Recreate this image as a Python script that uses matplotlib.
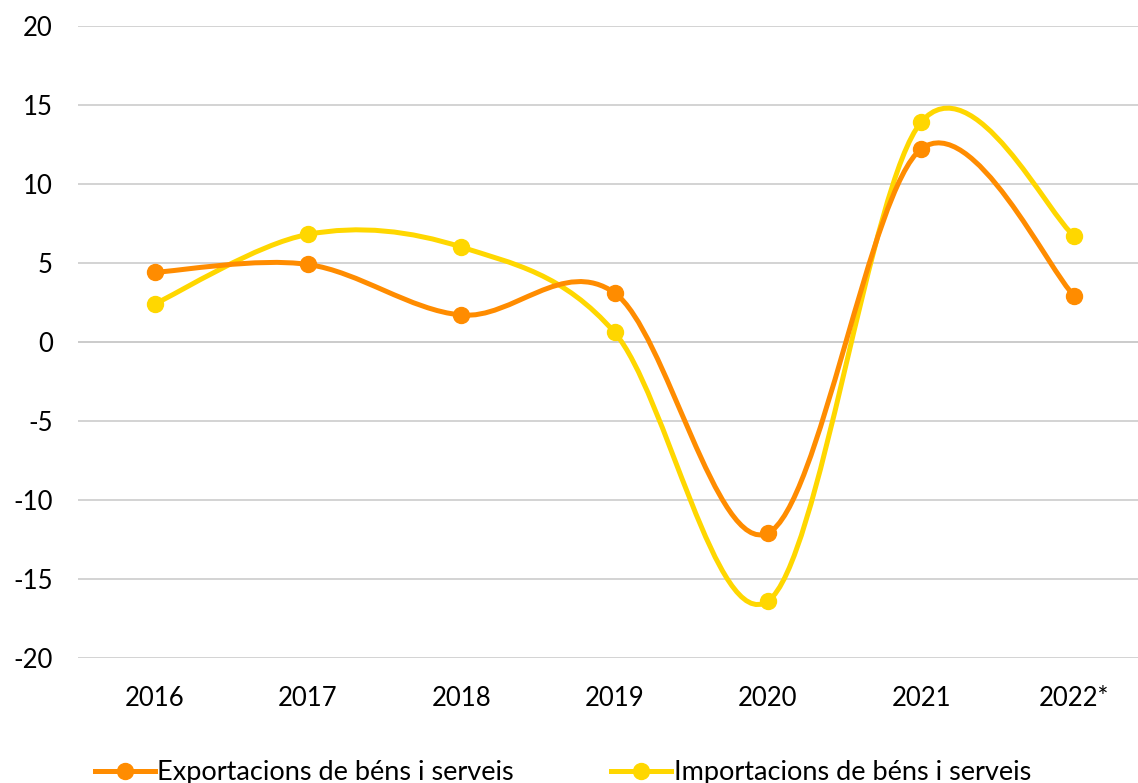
import numpy as np
import matplotlib
matplotlib.use("Agg")
import matplotlib.pyplot as plt
from matplotlib.path import Path
from matplotlib.patches import PathPatch
from matplotlib.lines import Line2D

plt.rcParams['font.family'] = ['Lato', 'DejaVu Sans']
plt.rcParams['axes.unicode_minus'] = False

years = ['2016', '2017', '2018', '2019', '2020', '2021', '2022*']
exports = [4.4, 4.9, 1.7, 3.1, -12.1, 12.2, 2.9]
imports = [2.4, 6.8, 6.0, 0.6, -16.4, 13.9, 6.7]

c_exp = '#FF8C00'
c_imp = '#FFD700'


def smooth_path(xs, ys):
    # Excel-style smoothed line: cubic bezier, control points from neighbours
    pts = np.column_stack([xs, ys]).astype(float)
    n = len(pts)
    verts = [pts[0]]
    codes = [Path.MOVETO]
    for i in range(n - 1):
        p0 = pts[i - 1] if i > 0 else pts[i]
        p1 = pts[i]
        p2 = pts[i + 1]
        p3 = pts[i + 2] if i + 2 < n else pts[i + 1]
        c1 = p1 + (p2 - p0) / 6.0
        c2 = p2 - (p3 - p1) / 6.0
        verts += [c1, c2, p2]
        codes += [Path.CURVE4] * 3
    return Path(verts, codes)


fig = plt.figure(figsize=(11.38, 7.83), dpi=100)
ax = fig.add_axes([0.0685, 0.1596, 0.943, 0.8075])

x = np.arange(len(years))
for vals, col, z in [(imports, c_imp, 3), (exports, c_exp, 4)]:
    patch = PathPatch(smooth_path(x, vals), facecolor='none', edgecolor=col,
                      lw=3.6, capstyle='round', joinstyle='round', zorder=z)
    ax.add_patch(patch)
    ax.plot(x, vals, ls='none', marker='o', ms=11.5, color=col, zorder=z + 0.5)

ax.set_xlim(-0.5, len(years) - 0.5)
ax.set_ylim(-20, 20)
ax.set_yticks(np.arange(-20, 21, 5))
ax.set_xticks(x)
ax.set_xticklabels(years)
ax.grid(axis='y', color='#D0D0D0', lw=1.3, zorder=0)
ax.axhline(0, color='#A8A4A4', lw=1.3, zorder=1)
for s in ax.spines.values():
    s.set_visible(False)
ax.tick_params(length=0, labelsize=18.5, colors='black')
ax.tick_params(axis='x', pad=20)
ax.tick_params(axis='y', pad=18)

handles = [Line2D([], [], color=c_exp, lw=3.6, marker='o', ms=11.5),
           Line2D([], [], color=c_imp, lw=3.6, marker='o', ms=11.5)]
labels = ['Exportacions de béns i serveis', 'Importacions de béns i serveis']
fig.legend(handles, labels, loc='lower left', bbox_to_anchor=(0.062, -0.034),
           ncol=2, frameon=False, fontsize=19.5, handlelength=2.2,
           handletextpad=0.1, columnspacing=3.6)

fig.savefig('out.png', dpi=100)
